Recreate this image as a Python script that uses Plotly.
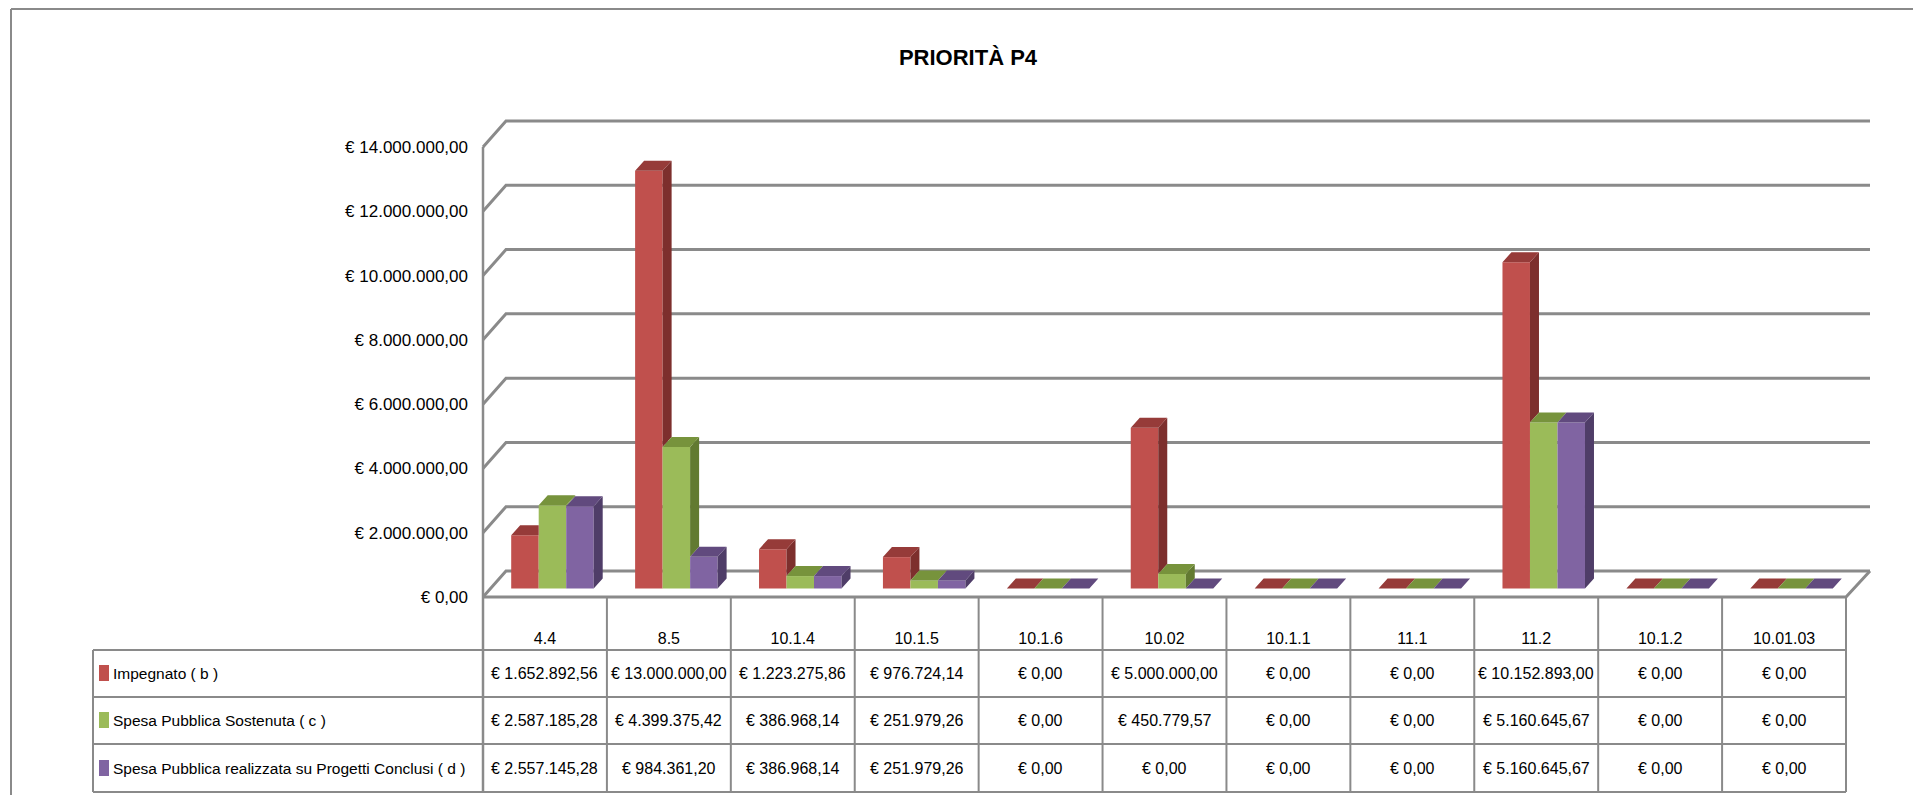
import plotly.graph_objects as go

# ---------------- data ----------------
title_text = "PRIORITÀ P4"
categories = ["4.4", "8.5", "10.1.4", "10.1.5", "10.1.6", "10.02", "10.1.1", "11.1", "11.2", "10.1.2", "10.01.03"]
impegnato = [1652892.56, 13000000.00, 1223275.86, 976724.14, 0.00, 5000000.00, 0.00, 0.00, 10152893.00, 0.00, 0.00]
spesa_sostenuta = [2587185.28, 4399375.42, 386968.14, 251979.26, 0.00, 450779.57, 0.00, 0.00, 5160645.67, 0.00, 0.00]
spesa_conclusi = [2557145.28, 984361.20, 386968.14, 251979.26, 0.00, 0.00, 0.00, 0.00, 5160645.67, 0.00, 0.00]
series_names = ["Impegnato ( b )", "Spesa Pubblica Sostenuta ( c )",
                "Spesa Pubblica realizzata su Progetti Conclusi ( d )"]
y_tick_values = [0, 2e6, 4e6, 6e6, 8e6, 10e6, 12e6, 14e6]

# ---------------- styles ----------------
front_colors = ["#C0504D", "#9BBB59", "#8064A2"]
top_colors = ["#963B39", "#77933C", "#614A7E"]
side_colors = ["#7D2F2D", "#627A31", "#4F3D68"]
FONT = "Liberation Sans, Arial, sans-serif"
LINE = "#8A8A8A"


def euro(v):
    s = f"{v:,.2f}".replace(",", "X").replace(".", ",").replace("X", ".")
    return "€ " + s


series_values = [impegnato, spesa_sostenuta, spesa_conclusi]
n = len(categories)

# ---------------- pixel geometry helpers (page px -> data) ----------------
OFF = 8                      # body margin of the html page
FIG_W, FIG_H = 1905, 787
X_L, X_R = 483, 1846         # front plane left / right (page px)
Y0, Y14 = 597, 147           # front plane value 0 / 14M (page px)
U = (X_R - X_L) / n          # px per category
E = 14e6 / (Y0 - Y14)        # euro per px


def dx(px):
    return (px - X_L) / U - 0.5


def dy(py):
    return (Y0 - py) * E


WALL_DX, WALL_DY = 23 / U, 26 * E      # depth of the 3D box
BAR_SHIFT, BAR_BASE = 7.5 / U, 8.5 * E  # bars sit a bit inside the box
BW = 27.5 / U                           # bar width
DDX, DDY = 9 / U, 10 * E                # bar depth

fig = go.Figure()

# front faces (bars)
for k in range(3):
    fig.add_trace(go.Bar(
        x=list(range(n)), y=series_values[k], base=BAR_BASE,
        width=BW, offset=BAR_SHIFT - 1.5 * BW + k * BW,
        marker=dict(color=front_colors[k], line=dict(width=0)),
        name=series_names[k], showlegend=False, hoverinfo="skip"))

# 3D top / side faces
for k in range(3):
    tx, ty, sx, sy = [], [], [], []
    for i in range(n):
        v = series_values[k][i]
        vn = series_values[k + 1][i] if k < 2 else None
        x0 = i + BAR_SHIFT - 1.5 * BW + k * BW
        x1 = x0 + BW
        b = BAR_BASE
        # top face (clipped if the next bar is taller)
        if vn is not None and vn > v:
            tx += [x0, x1, x1, x0 + DDX, x0, None]
        else:
            tx += [x0, x1, x1 + DDX, x0 + DDX, x0, None]
        ty += [b + v, b + v, b + v + DDY, b + v + DDY, b + v, None]
        # side face (only the part above the next bar)
        lo = 0 if vn is None else vn
        if vn is None or v > lo:
            sx += [x1, x1, x1 + DDX, x1 + DDX, x1, None]
            sy += [b + lo, b + v, b + v + DDY, b + lo + DDY, b + lo, None]
    fig.add_trace(go.Scatter(x=sx, y=sy, mode="lines", line=dict(width=0),
                             fill="toself", fillcolor=side_colors[k],
                             showlegend=False, hoverinfo="skip"))
    fig.add_trace(go.Scatter(x=tx, y=ty, mode="lines", line=dict(width=0),
                             fill="toself", fillcolor=top_colors[k],
                             showlegend=False, hoverinfo="skip"))

shapes = []
# back wall gridlines with left-wall diagonals
for v in y_tick_values:
    shapes.append(dict(
        type="path", xref="x", yref="y", layer="below",
        path=f"M {-0.5},{v} L {-0.5 + WALL_DX},{v + WALL_DY} L {n - 0.5 + WALL_DX + 1 / U},{v + WALL_DY}",
        line=dict(color=LINE, width=3)))
# floor front & right edges, front axis line
shapes.append(dict(type="path", xref="x", yref="y", layer="below",
                   path=f"M {-0.5},{0} L {n - 0.5},{0} L {n - 0.5 + WALL_DX + 1 / U},{WALL_DY}",
                   line=dict(color=LINE, width=3)))
shapes.append(dict(type="line", xref="x", yref="y", x0=-0.5, x1=-0.5,
                   y0=dy(792), y1=max(y_tick_values), line=dict(color=LINE, width=2.5)))

# table
row_lines = [650, 697, 744, 792]
row_centers = [673, 720, 768]
for py in row_lines:
    shapes.append(dict(type="line", xref="x", yref="y", x0=dx(93), x1=n - 0.5,
                       y0=dy(py), y1=dy(py), line=dict(color=LINE, width=2)))
shapes.append(dict(type="line", xref="x", yref="y", x0=dx(93), x1=dx(93),
                   y0=dy(650), y1=dy(792), line=dict(color=LINE, width=2)))
for i in range(1, n + 1):
    shapes.append(dict(type="line", xref="x", yref="y", x0=i - 0.5, x1=i - 0.5,
                       y0=dy(Y0), y1=dy(792), line=dict(color=LINE, width=2)))

annotations = []
for k in range(3):
    rc = row_centers[k]
    shapes.append(dict(type="rect", xref="x", yref="y", x0=dx(99), x1=dx(109),
                       y0=dy(rc + 8), y1=dy(rc - 8), fillcolor=front_colors[k],
                       line=dict(width=0)))
    annotations.append(dict(x=dx(111), y=dy(rc), xref="x", yref="y", text=series_names[k],
                            showarrow=False, xanchor="left", yanchor="middle",
                            font=dict(family=FONT, size=15.5, color="#000")))
    for i in range(n):
        annotations.append(dict(x=i, y=dy(rc), xref="x", yref="y",
                                text=euro(series_values[k][i]), showarrow=False,
                                xanchor="center", yanchor="middle",
                                font=dict(family=FONT, size=16, color="#000")))

# outer chart border (top and left)
shapes.append(dict(type="line", xref="paper", yref="paper", x0=3 / FIG_W, x1=1,
                   y0=1 - 1 / FIG_H, y1=1 - 1 / FIG_H, line=dict(color="#8A8A8A", width=2)))
shapes.append(dict(type="line", xref="paper", yref="paper", x0=3 / FIG_W, x1=3 / FIG_W,
                   y0=0, y1=1 - 1 / FIG_H, line=dict(color="#8A8A8A", width=2)))

fig.update_layout(
    width=FIG_W, height=FIG_H,
    margin=dict(l=0, r=0, t=0, b=0),
    paper_bgcolor="white", plot_bgcolor="white",
    barmode="overlay",
    title=dict(text=f"<b>{title_text}</b>", x=(968 - OFF) / FIG_W, y=(FIG_H + OFF - 57) / FIG_H,
               xref="paper", yref="container", xanchor="center", yanchor="middle",
               font=dict(family=FONT, size=22, color="#000")),
    xaxis=dict(range=[dx(OFF), dx(OFF + FIG_W)], tickmode="array",
               tickvals=list(range(n)), ticktext=categories,
               anchor="free", position=(FIG_H + OFF - 627) / FIG_H,
               showgrid=False, zeroline=False, showline=False, ticks="",
               tickfont=dict(family=FONT, size=16, color="#000"), fixedrange=True),
    yaxis=dict(range=[dy(OFF + FIG_H), dy(OFF)], tickmode="array",
               tickvals=y_tick_values, ticktext=[euro(v) for v in y_tick_values],
               anchor="free", position=(X_L - OFF) / FIG_W, side="left",
               showgrid=False, zeroline=False, showline=False, ticks="",
               ticklabelstandoff=15, automargin=False,
               tickfont=dict(family=FONT, size=17, color="#000"), fixedrange=True),
    shapes=shapes,
    annotations=annotations,
)

fig.write_html("out.html")
